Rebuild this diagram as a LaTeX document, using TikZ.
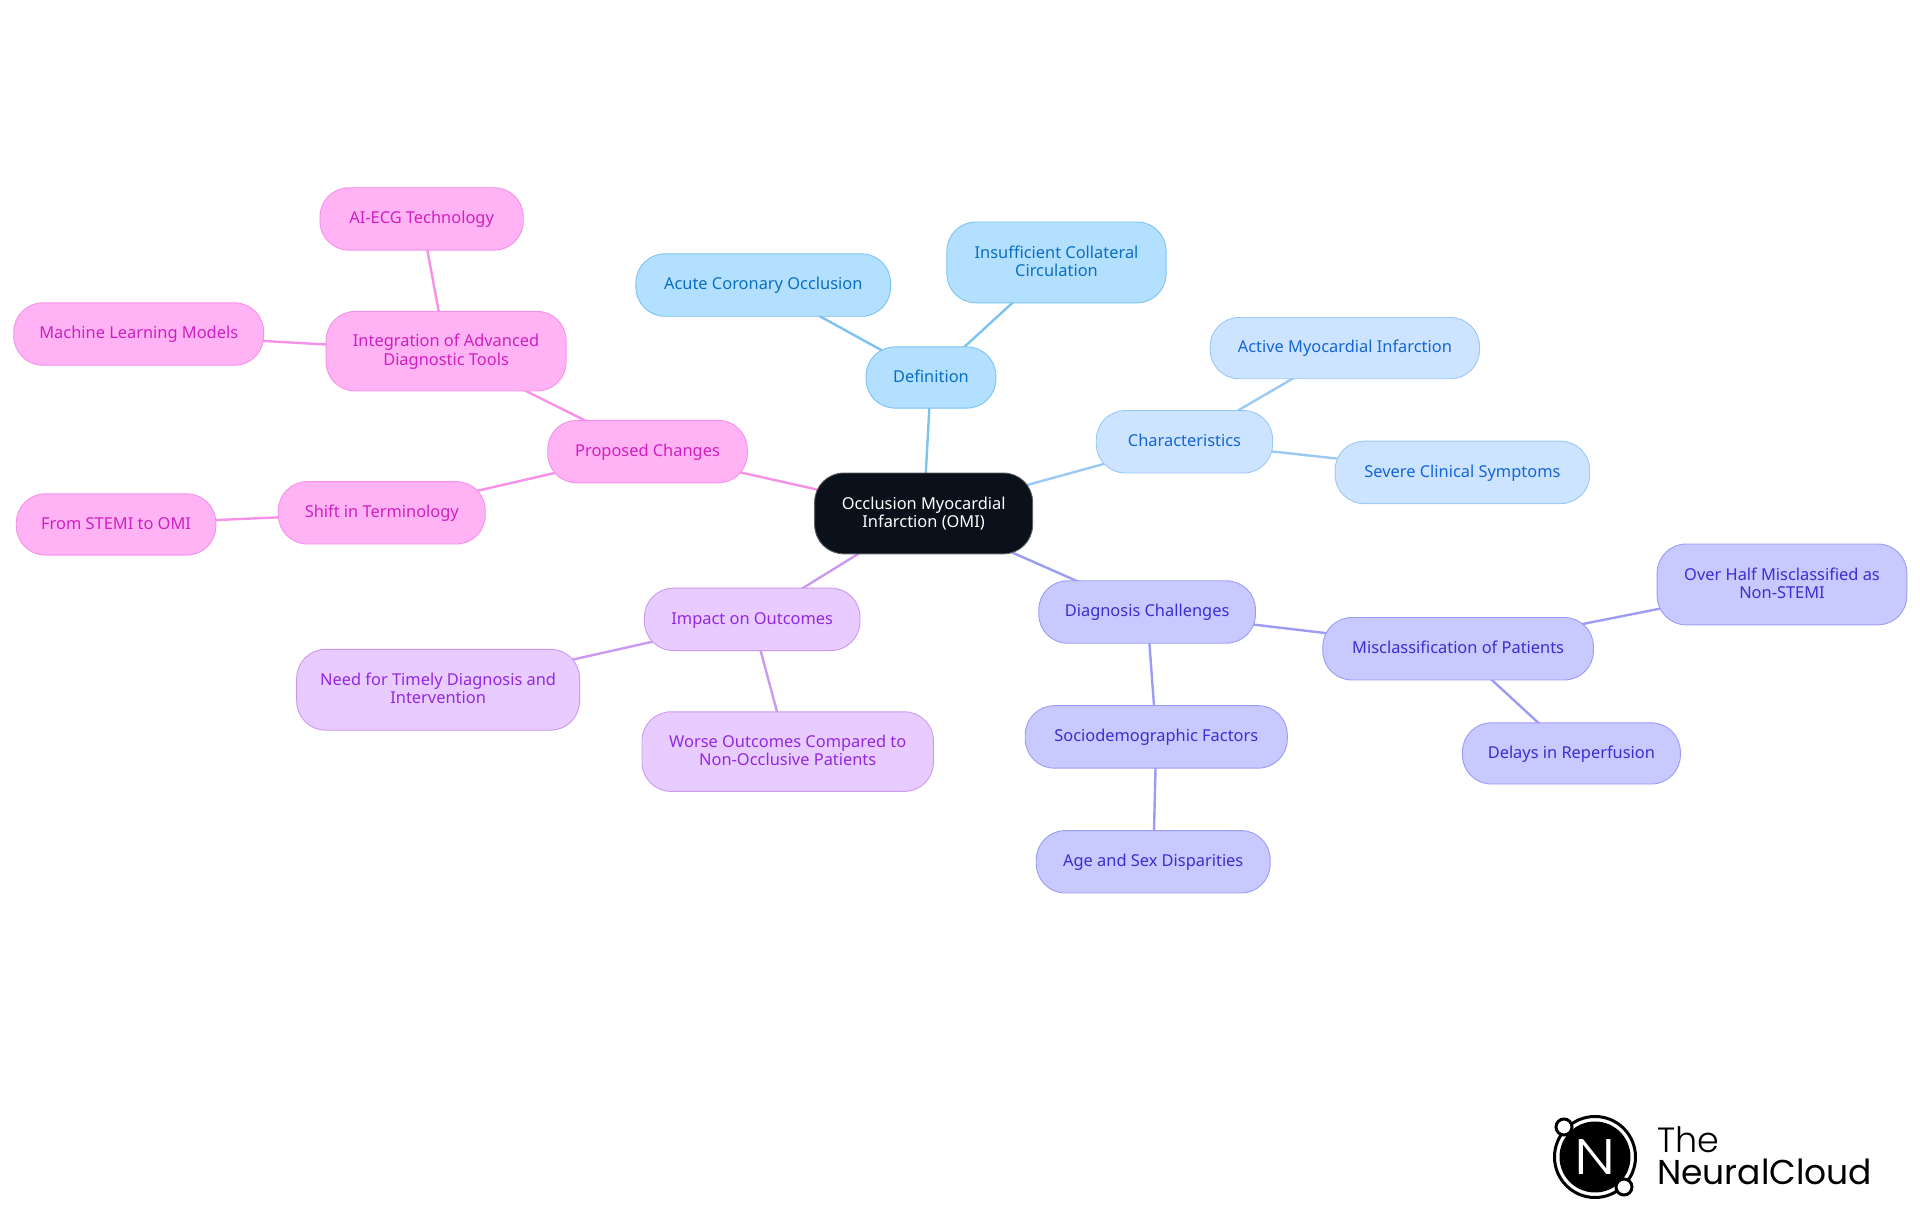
\documentclass[tikz,border=0pt]{standalone}
\usepackage{fontspec}
\setmainfont{Noto Sans}
\newfontfamily\logofont{Poppins Light}
\newfontfamily\logofontb{Poppins}
\usetikzlibrary{backgrounds,calc}
\definecolor{blA}{HTML}{B3E0FF}\definecolor{blAd}{HTML}{7CC3F3}\definecolor{blAt}{HTML}{0A6FC2}
\definecolor{blB}{HTML}{CCE4FF}\definecolor{blBd}{HTML}{9CC8F5}\definecolor{blBt}{HTML}{1565D8}
\definecolor{inC}{HTML}{C7C9FF}\definecolor{inCd}{HTML}{9C9CF5}\definecolor{inCt}{HTML}{3A2FD0}
\definecolor{puD}{HTML}{E8CCFF}\definecolor{puDd}{HTML}{CC99F0}\definecolor{puDt}{HTML}{9328E0}
\definecolor{piE}{HTML}{FFB3F5}\definecolor{piEd}{HTML}{F592E8}\definecolor{piEt}{HTML}{D01FC0}
\definecolor{navy}{HTML}{0B111A}
\tikzset{
  mm/.style={rounded corners=29pt,align=center,inner sep=0pt,line width=0.9pt,font=\fontsize{16.4}{18.4}\selectfont},
  centre/.style={mm,fill=navy,draw=gray!70!navy,text=white},
  defn/.style={mm,fill=blA,draw=blAd,text=blAt},
  chars/.style={mm,fill=blB,draw=blBd,text=blBt},
  diag/.style={mm,fill=inC,draw=inCd,text=inCt},
  impct/.style={mm,fill=puD,draw=puDd,text=puDt},
  prop/.style={mm,fill=piE,draw=piEd,text=piEt},
  link/.style={line width=2.4pt}
}
\newcommand\mmn[7]{%
  \pgfmathsetmacro\mmw{(#4-#3)*1.2245}\pgfmathsetmacro\mmh{(#6-#5)*1.2245}%
  \node[#2,minimum width=\mmw pt,minimum height=\mmh pt] (#1) at ({(#3+#4)/2+0.3},{(#5+#6)/2+0.3}) {\rule{0pt}{13.6pt}#7\vphantom{g}};}
\begin{document}
\begin{tikzpicture}[x=1.2245pt,y=-1.2245pt]
\useasboundingbox (0,0) rectangle (1568,992.25);
\mmn{c}{centre}{665}{843}{386}{452}{Occlusion Myocardial\\Infarction (OMI)}
\mmn{def}{defn}{707}{813}{283}{333}{Definition}
\mmn{acu}{defn}{519}{727}{207}{258}{Acute Coronary Occlusion}
\mmn{ins}{defn}{773}{952}{181}{247}{Insufficient Collateral\\Circulation}
\mmn{cha}{chars}{895}{1039}{335}{386}{Characteristics}
\mmn{act}{chars}{988}{1208}{259}{309}{Active Myocardial Infarction}
\mmn{sev}{chars}{1090}{1298}{360}{411}{Severe Clinical Symptoms}
\mmn{dia}{diag}{848}{1025}{474}{525}{Diagnosis Challenges}
\mmn{mis}{diag}{1080}{1301}{504}{555}{Misclassification of Patients}
\mmn{ove}{diag}{1353}{1557}{444}{510}{Over Half Misclassified as\\Non-STEMI}
\mmn{del}{diag}{1194}{1372}{590}{640}{Delays in Reperfusion}
\mmn{soc}{diag}{837}{1051}{576}{627}{Sociodemographic Factors}
\mmn{age}{diag}{846}{1037}{678}{729}{Age and Sex Disparities}
\mmn{imp}{impct}{526}{702}{480}{531}{Impact on Outcomes}
\mmn{nee}{impct}{242}{473}{530}{596}{Need for Timely Diagnosis and\\Intervention}
\mmn{wor}{impct}{524}{762}{581}{646}{Worse Outcomes Compared to\\Non-Occlusive Patients}
\mmn{pro}{prop}{447}{610}{343}{394}{Proposed Changes}
\mmn{shi}{prop}{227}{396}{393}{444}{Shift in Terminology}
\mmn{fro}{prop}{13}{176}{403}{453}{From STEMI to OMI}
\mmn{int}{prop}{266}{462}{254}{319}{Integration of Advanced\\Diagnostic Tools}
\mmn{mac}{prop}{11}{215}{247}{298}{Machine Learning Models}
\mmn{ai}{prop}{261}{427}{153}{204}{AI-ECG Technology}
\begin{scope}[on background layer]
\draw[link,blAd] (c.center)--(def.center) (def.center)--(acu.center) (def.center)--(ins.center);
\draw[link,blBd] (c.center)--(cha.center) (cha.center)--(act.center) (cha.center)--(sev.center);
\draw[link,inCd] (c.center)--(dia.center) (dia.center)--(mis.center) (mis.center)--(ove.center) (mis.center)--(del.center) (dia.center)--(soc.center) (soc.center)--(age.center);
\draw[link,puDd] (c.center)--(imp.center) (imp.center)--(nee.center) (imp.center)--(wor.center);
\draw[link,piEd] (c.center)--(pro.center) (pro.center)--(shi.center) (shi.center)--(fro.center) (pro.center)--(int.center) (int.center)--(mac.center) (int.center)--(ai.center);
\end{scope}
\begin{scope}[x=1pt,y=-1pt]
\node[circle,draw=black,line width=3pt,minimum size=81pt,inner sep=0pt] (ring) at (1595,1157) {};
\node[circle,fill=black,minimum size=71pt,inner sep=0pt,text=white,font=\logofont\fontsize{50}{50}\selectfont] (disc) at (1595,1157) {\scalebox{1.2}[1]{N}};
\node[circle,draw=black,fill=white,line width=3pt,minimum size=16pt,inner sep=0pt] (ua) at (1564,1127) {};
\node[circle,draw=black,fill=white,line width=3pt,minimum size=16pt,inner sep=0pt] (ub) at (1624,1187) {};
\node[anchor=base west,inner sep=0pt,font=\logofont\fontsize{35}{35}\selectfont] (the) at (1657,1153) {The};
\node[anchor=base west,inner sep=0pt,font=\logofontb\fontsize{34.5}{34.5}\selectfont] (nc) at (1657,1185) {NeuralCloud};
\end{scope}
\end{tikzpicture}
\end{document}
